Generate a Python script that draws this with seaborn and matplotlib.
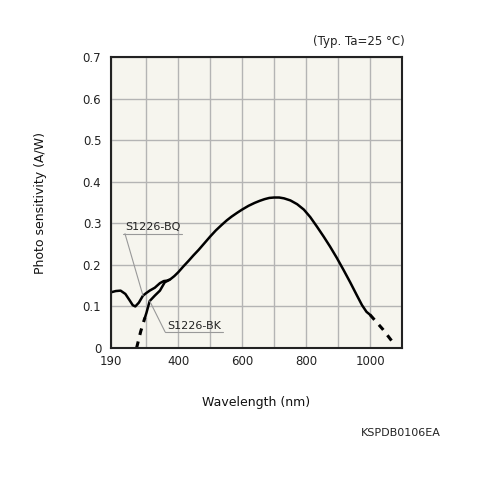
import matplotlib
matplotlib.use("Agg")
import matplotlib.pyplot as plt
import seaborn as sns

# ================== data ==================

bq_wl = [190, 205, 220, 235, 248, 258, 266, 277, 290, 300, 311, 327, 343, 355, 365, 375,
         388, 400, 416, 433, 448, 464, 482, 500, 518, 536, 552, 567, 584, 600, 620, 639,
         655, 670, 685, 700, 716, 731, 751, 772, 793, 813, 834, 855, 875, 896, 917, 938,
         958, 975, 989, 1000]
bq_val = [0.134, 0.137, 0.138, 0.130, 0.115, 0.103, 0.100, 0.109, 0.126, 0.132, 0.138, 0.145,
          0.156, 0.161, 0.162, 0.165, 0.173, 0.182, 0.196, 0.210, 0.223, 0.236, 0.252, 0.268,
          0.283, 0.296, 0.307, 0.316, 0.325, 0.333, 0.342, 0.349, 0.354, 0.358, 0.361, 0.362,
          0.362, 0.360, 0.355, 0.346, 0.333, 0.315, 0.292, 0.268, 0.244, 0.217, 0.188, 0.158,
          0.128, 0.103, 0.087, 0.080]
tail_wl = [1000, 1040, 1078]
tail_val = [0.080, 0.045, 0.007]

bk_dash_wl = [270, 283, 296]
bk_dash_val = [0.0, 0.040, 0.073]
bk_wl = [296, 301, 311, 327, 343, 358, 373]
bk_val = [0.073, 0.085, 0.113, 0.126, 0.138, 0.158, 0.164]

x_ticks = [190, 400, 600, 800, 1000]
x_grid = [300, 500, 700, 900]
y_ticks = [0, 0.1, 0.2, 0.3, 0.4, 0.5, 0.6, 0.7]
y_labels = ["0", "0.1", "0.2", "0.3", "0.4", "0.5", "0.6", "0.7"]

# ================== plot ==================

sns.set_style("white")
plt.rcParams["font.family"] = ["DejaVu Sans"]

fig = plt.figure(figsize=(5, 5), dpi=100)
ax = fig.add_axes([0.222, 0.304, 0.582, 0.582])
ax.set_facecolor("#f6f5ee")

sns.lineplot(x=bq_wl, y=bq_val, ax=ax, color="black", linewidth=1.8)
sns.lineplot(x=tail_wl, y=tail_val, ax=ax, color="black", linewidth=2.2, linestyle=(0, (2.2, 2.2)))
sns.lineplot(x=bk_dash_wl, y=bk_dash_val, ax=ax, color="black", linewidth=2.2, linestyle=(0, (2.2, 2.2)))
sns.lineplot(x=bk_wl, y=bk_val, ax=ax, color="black", linewidth=1.8)

ax.set_xlim(190, 1100)
ax.set_ylim(0, 0.7)
ax.set_xticks(x_ticks)
ax.set_xticks(x_grid, minor=True)
ax.set_yticks(y_ticks)
ax.set_yticklabels(y_labels)
ax.tick_params(which="both", length=0, labelsize=8.5, colors="#222222")
ax.tick_params(axis="y", pad=7)
ax.tick_params(axis="x", pad=5)
ax.grid(False)
ax.grid(which="both", axis="x", color="#b4b4b4", linewidth=1)
ax.grid(which="major", axis="y", color="#b4b4b4", linewidth=1)
ax.set_axisbelow(True)
for s in ax.spines.values():
    s.set_color("#222222")
    s.set_linewidth(1.5)

ax.set_xlabel("Wavelength (nm)", fontsize=9, color="#111111", labelpad=20)
ax.set_ylabel("Photo sensitivity (A/W)", fontsize=9, color="#111111", labelpad=26)

# labels with underline and leader
ax.text(0.048, 0.405, "S1226-BQ", transform=ax.transAxes, fontsize=8, color="#222222")
ax.plot([0.041, 0.244], [0.393, 0.393], transform=ax.transAxes, color="#999999", lw=0.8)
ax.annotate("", xy=(bq_wl[8], bq_val[8]), xytext=(0.048, 0.393), textcoords="axes fraction",
            arrowprops=dict(arrowstyle="-", color="#999999", lw=0.8, shrinkA=0, shrinkB=0))

ax.text(0.192, 0.067, "S1226-BK", transform=ax.transAxes, fontsize=8, color="#222222")
ax.plot([0.186, 0.385], [0.055, 0.055], transform=ax.transAxes, color="#999999", lw=0.8)
ax.annotate("", xy=(bk_wl[2], bk_val[2]), xytext=(0.186, 0.055), textcoords="axes fraction",
            arrowprops=dict(arrowstyle="-", color="#999999", lw=0.8, shrinkA=0, shrinkB=0))

fig.text(0.81, 0.905, "(Typ. Ta=25 °C)", ha="right", va="bottom", fontsize=8.5, color="#222222")
fig.text(0.882, 0.134, "KSPDB0106EA", ha="right", va="center", fontsize=8, color="#222222")

fig.savefig("out.png", dpi=100, facecolor="white")
